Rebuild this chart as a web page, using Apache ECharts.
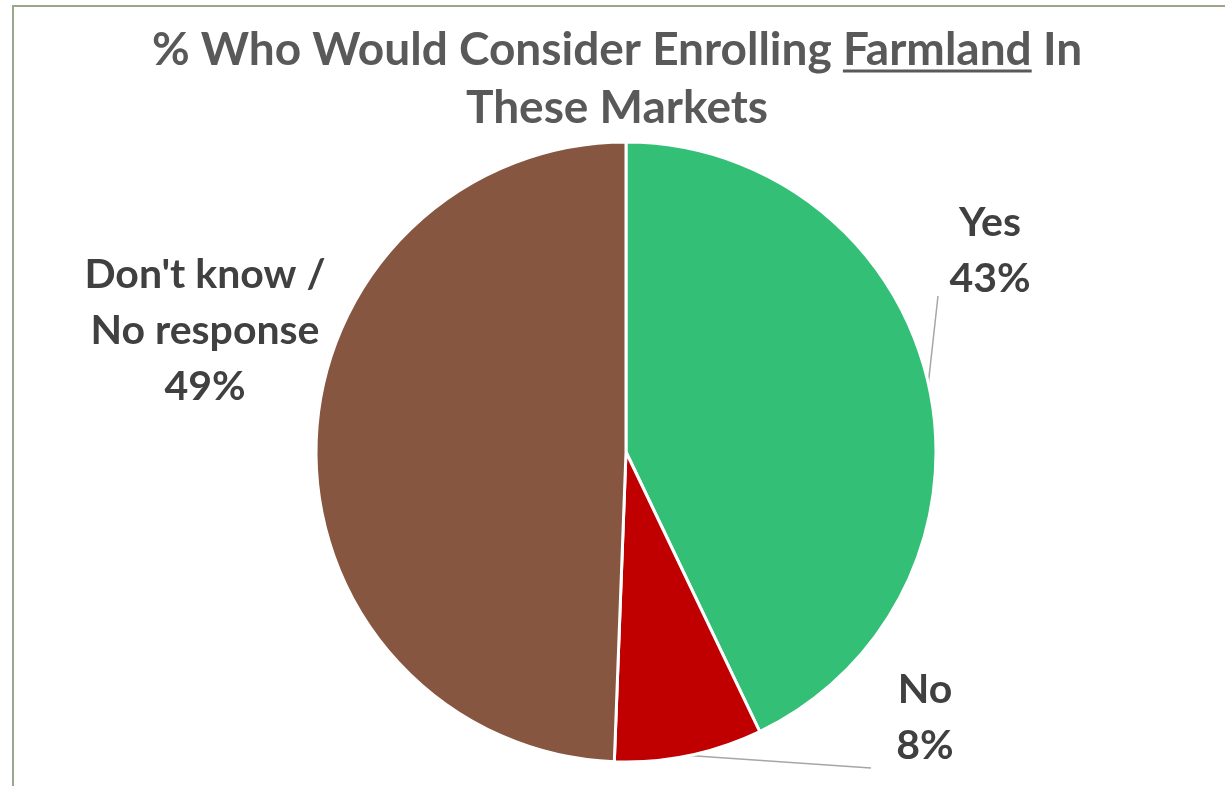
<!DOCTYPE html>
<html><head><meta charset="utf-8">
<script src="https://cdn.jsdelivr.net/npm/echarts@6/dist/echarts.min.js"></script>
<style>html,body{margin:0;padding:0;background:#fff;}#c{width:1225px;height:786px;}</style>
</head><body><div id="c"></div>
<script>
const titlePrefix = '% Who Would Consider Enrolling ';
const titleUnderlined = 'Farmland';
const titleSuffix = ' In';
const titleLine2 = 'These Markets';
const categories = ['Yes', 'No', "Don't know /\nNo response"];
const values = [42.9, 7.7, 49.4];
const sliceColors = ['#33BF76', '#C00000', '#865640'];

const FONT = 'Lato';
const titleSize = 46;
const labelSize = 41;
const titleColor = '#595959';

const cv = document.createElement('canvas').getContext('2d');
cv.font = 'bold ' + titleSize + 'px ' + FONT;
const wPre = cv.measureText(titlePrefix).width;
const wU = cv.measureText(titleUnderlined).width;
const wSuf = cv.measureText(titleSuffix).width;
const total = wPre + wU + wSuf;
const tcx = 617;
const x0 = tcx - total / 2;

const chart = echarts.init(document.getElementById('c'), null, {renderer: 'canvas'});
const labelPos = [
  {x: 990, y: 251, end: [938, 296]},
  {x: 925, y: 718, end: [871, 768]},
  {x: 205, y: 331, end: null}
];
chart.setOption({
  animation: false,
  graphic: [
    {type: 'rect', shape: {x: 13, y: 6, width: 1400, height: 1000}, style: {fill: null, stroke: '#9AA78A', lineWidth: 2}, silent: true},
    {type: 'text', x: x0, y: 50, style: {text: titlePrefix + titleUnderlined + titleSuffix, font: 'bold ' + titleSize + 'px ' + FONT, fill: titleColor, textAlign: 'left', textVerticalAlign: 'middle'}},
    {type: 'line', shape: {x1: x0 + wPre, y1: 71, x2: x0 + wPre + wU, y2: 71}, style: {stroke: titleColor, lineWidth: 3}},
    {type: 'text', x: tcx, y: 108, style: {text: titleLine2, font: 'bold ' + titleSize + 'px ' + FONT, fill: titleColor, textAlign: 'center', textVerticalAlign: 'middle'}}
  ],
  series: [{
    type: 'pie',
    center: [626, 452],
    radius: [0, 310],
    startAngle: 90,
    clockwise: true,
    data: categories.map((c, i) => ({name: c, value: values[i], itemStyle: {color: sliceColors[i]}})),
    itemStyle: {borderColor: '#fff', borderWidth: 3},
    label: {
      show: true,
      formatter: p => p.name + '\n' + Math.round(p.percent) + '%',
      fontFamily: FONT,
      fontWeight: 'bold',
      fontSize: labelSize,
      lineHeight: 56,
      color: '#404040',
      align: 'center'
    },
    labelLine: {show: true, lineStyle: {color: '#A6A6A6', width: 1.5}},
    labelLayout: function (p) {
      const lp = labelPos[p.dataIndex];
      const res = {x: lp.x, y: lp.y, align: 'center', verticalAlign: 'middle'};
      if (lp.end && p.labelLinePoints) {
        const s = p.labelLinePoints[0];
        res.labelLinePoints = [[s[0], s[1]], [(s[0] + lp.end[0]) / 2, (s[1] + lp.end[1]) / 2], lp.end];
      } else {
        res.labelLinePoints = [[0,0],[0,0],[0,0]];
      }
      return res;
    },
    emphasis: {disabled: true}
  }]
});
</script></body></html>
